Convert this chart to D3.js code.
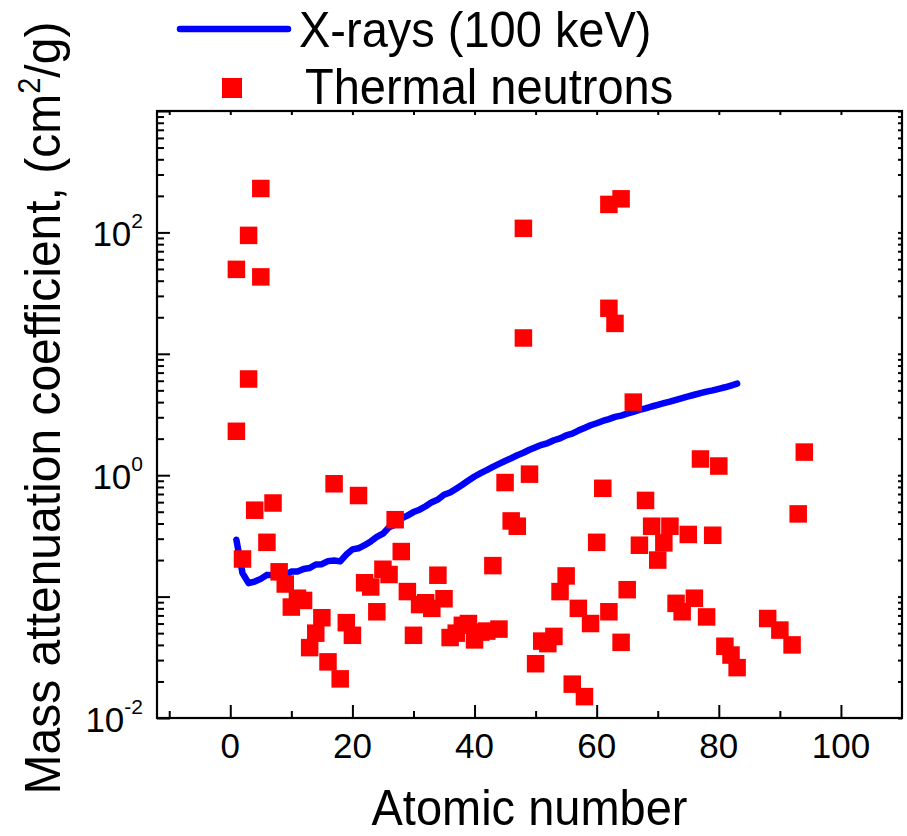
<!DOCTYPE html>
<html>
<head>
<meta charset="utf-8">
<script src="https://cdn.jsdelivr.net/npm/d3@7"></script>
<style>
  body { margin: 0; background: #fff; }
  text { font-family: "Liberation Sans", Arial, sans-serif; fill: #000; }
</style>
</head>
<body>
<script>
// X-rays 100 keV, Z = 1..83
var xrayZ = d3.range(1, 84);
var xrayMu = [0.294, 0.156, 0.129, 0.133, 0.140, 0.151, 0.150, 0.155, 0.150, 0.161,
              0.161, 0.169, 0.172, 0.184, 0.185, 0.196, 0.198, 0.195, 0.222, 0.245,
              0.250, 0.265, 0.285, 0.310, 0.330, 0.372, 0.390, 0.440, 0.465, 0.497,
              0.520, 0.555, 0.600, 0.630, 0.690, 0.720, 0.775, 0.835, 0.905, 0.975,
              1.04, 1.10, 1.17, 1.24, 1.31, 1.38, 1.46, 1.53, 1.62, 1.70,
              1.78, 1.84, 1.94, 2.01, 2.13, 2.20, 2.33, 2.45, 2.58, 2.68,
              2.80, 2.90, 3.02, 3.10, 3.22, 3.32, 3.45, 3.55, 3.68, 3.80,
              3.92, 4.04, 4.18, 4.32, 4.46, 4.60, 4.74, 4.88, 5.00, 5.15,
              5.30, 5.48, 5.68];

// thermal neutrons
var neutZ = [1, 1, 2, 3, 3, 4, 5, 5, 6, 7, 8, 9, 10, 11, 12, 13, 14, 15, 16, 17,
             18, 19, 20, 21, 22, 23, 24, 25, 26, 27, 28, 29, 30, 31, 32, 33, 34, 35, 36, 37,
             38, 39, 40, 41, 42, 43, 44, 45, 46, 47, 48, 48, 49, 50, 51, 52, 53, 54, 55, 56,
             57, 58, 59, 60, 61, 62, 62, 62, 63, 64, 64, 65, 66, 67, 68, 69, 70, 71, 72, 73,
             74, 75, 76, 77, 78, 79, 80, 81, 82, 83, 88, 90, 92, 93, 94];
var neutMu = [49.6, 2.3, 0.204, 94.5, 6.2, 0.515, 230, 43, 0.28, 0.59, 0.16, 0.127, 0.082, 0.097, 0.093, 0.038, 0.05, 0.067, 0.029, 0.85,
              0.021, 0.061, 0.048, 0.68, 0.13, 0.12, 0.075, 0.168, 0.152, 0.43, 0.235, 0.11, 0.048, 0.086, 0.089, 0.08, 0.15, 0.096, 0.046, 0.05,
              0.058, 0.06, 0.044, 0.051, 0.052, 0.18, 0.054, 0.87, 0.42, 0.38, 108, 13.5, 1.02, 0.028, 0.043, 0.041, 0.047, 0.11, 0.148, 0.019,
              0.08, 0.015, 0.06, 0.28, 0.78, 170, 23.7, 0.075, 17.8, 189, 0.042, 0.114, 4.0, 0.265, 0.62, 0.38, 0.2, 0.277, 0.38, 0.088,
              0.075, 0.325, 0.097, 1.36, 0.068, 0.32, 1.19, 0.039, 0.033, 0.026, 0.066, 0.053, 0.04, 0.48, 1.55];

var xMajor = [0, 20, 40, 60, 80, 100];
var xMinor = [-10, 10, 30, 50, 70, 90];
var yLabelExp = [-2, 0, 2];
var legendLabels = ["X-rays (100 keV)", "Thermal neutrons"];

var W = 907, H = 836;
var pL = 157, pR = 902, pT = 111, pB = 718;
var stretch = 1.05;  // reference glyphs look a bit tall

var svg = d3.select("body").append("svg")
            .attr("width", W)
            .attr("height", H);

var x = d3.scaleLinear().domain([-12, 110]).range([pL, pR]);
var y = d3.scaleLog().domain([0.01, 1000]).range([pB, pT]);

var decades = d3.range(-2, 4).map(e => Math.pow(10, e));
var yMinor = [];
d3.range(-2, 3).forEach(e => { for (var k = 2; k < 10; k++) yMinor.push(k * Math.pow(10, e)); });

// ticks, all pointing inward
function ticks(axis, vals, size, tr) {
  svg.append("g")
     .attr("transform", tr)
     .call(axis.tickValues(vals).tickSize(size).tickSizeOuter(0).tickFormat(""))
     .call(g => g.select(".domain").remove())
     .selectAll("line").attr("stroke", "#000").attr("stroke-width", 2);
}
ticks(d3.axisBottom(x), xMajor, -13, "translate(0," + pB + ")");
ticks(d3.axisBottom(x), xMinor, -7, "translate(0," + pB + ")");
ticks(d3.axisTop(x), xMajor.concat(xMinor), -4, "translate(0," + pT + ")");
ticks(d3.axisLeft(y), decades, -13, "translate(" + pL + ",0)");
ticks(d3.axisLeft(y), yMinor, -7, "translate(" + pL + ",0)");
ticks(d3.axisRight(y), decades.concat(yMinor), -4, "translate(" + pR + ",0)");

svg.append("rect")
   .attr("x", pL).attr("y", pT)
   .attr("width", pR - pL).attr("height", pB - pT)
   .attr("fill", "none").attr("stroke", "#000").attr("stroke-width", 2.2);

// tick labels
svg.append("g").selectAll("text")
   .data(xMajor).enter().append("text")
   .attr("x", d => x(d))
   .attr("y", pB + 40)
   .attr("text-anchor", "middle")
   .style("font-size", "35px")
   .text(d => d);

var yl = svg.append("g").selectAll("text")
   .data(yLabelExp).enter().append("text")
   .attr("x", pL - 14)
   .attr("y", d => y(Math.pow(10, d)) + 14)
   .attr("text-anchor", "end")
   .style("font-size", "35px");
yl.append("tspan").text("10");
yl.append("tspan").attr("dy", -18).style("font-size", "21px").text(d => d);

// x-ray line
var line = d3.line().x(d => x(d[0])).y(d => y(d[1]));
svg.append("path")
   .datum(xrayZ.map((z, i) => [z, xrayMu[i]]))
   .attr("d", line)
   .attr("fill", "none")
   .attr("stroke", "#0000ff")
   .attr("stroke-width", 6.5)
   .attr("stroke-linejoin", "round")
   .attr("stroke-linecap", "round");

// neutron squares
var s = 17.5;
svg.append("g").selectAll("rect")
   .data(neutZ.map((z, i) => [z, neutMu[i]]))
   .enter().append("rect")
   .attr("x", d => x(d[0]) - s / 2)
   .attr("y", d => y(d[1]) - s / 2)
   .attr("width", s).attr("height", s)
   .attr("fill", "#ff0000");

// axis titles
svg.append("text")
   .attr("transform", "translate(" + ((pL + pR) / 2) + ",825) scale(1," + stretch + ")")
   .attr("text-anchor", "middle")
   .style("font-size", "47px")
   .text("Atomic number");

var yt = svg.append("text")
   .attr("transform", "translate(60,408) rotate(-90) scale(1," + stretch + ")")
   .attr("text-anchor", "middle")
   .style("font-size", "48px");
yt.append("tspan").text("Mass attenuation coefficient, (cm");
yt.append("tspan").attr("dy", -19).style("font-size", "29px").text("2");
yt.append("tspan").attr("dy", 19).text("/g)");

// legend
var lg = svg.append("g");
lg.append("line")
  .attr("x1", 180).attr("x2", 288).attr("y1", 29).attr("y2", 29)
  .attr("stroke", "#0000ff").attr("stroke-width", 6.5).attr("stroke-linecap", "round");
lg.append("rect")
  .attr("x", 222).attr("y", 78).attr("width", 20).attr("height", 20)
  .attr("fill", "#ff0000");
lg.selectAll("text")
  .data(legendLabels).enter().append("text")
  .attr("transform", (d, i) => "translate(" + (i ? 305 : 299) + "," + (i ? 104 : 47) + ") scale(1," + stretch + ")")
  .style("font-size", "47px")
  .text(d => d);
</script>
</body>
</html>
